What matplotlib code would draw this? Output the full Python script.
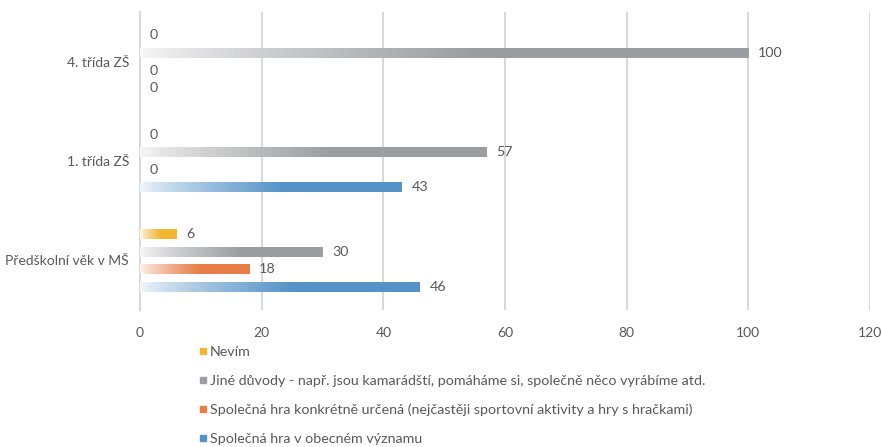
import numpy as np
import matplotlib
matplotlib.use("Agg")
import matplotlib.pyplot as plt
from matplotlib.colors import to_rgb
from matplotlib.lines import Line2D

categories = ["Předškolní věk v MŠ", "1. třída ZŠ", "4. třída ZŠ"]
series = [
    "Nevím",
    "Jiné důvody - např. jsou kamarádští, pomáháme si, společně něco vyrábíme atd.",
    "Společná hra konkrétně určená (nejčastěji sportovní aktivity a hry s hračkami)",
    "Společná hra v obecném významu",
]
colors = ["#F2B632", "#9C9DA1", "#E87D45", "#5592C8"]
# values per series, ordered like categories
nevim = [6, 0, 0]
jine = [30, 57, 100]
konkretne = [18, 0, 0]
obecne = [46, 43, 0]
values = [nevim, jine, konkretne, obecne]

text_color = "#595959"
grid_color = "#D9D9D9"
plt.rcParams["font.family"] = ["Lato", "DejaVu Sans"]

fig = plt.figure(figsize=(8.83, 4.47), dpi=100)
ax = fig.add_axes([0.1586, 0.3065, 0.8267, 0.6665])

step = 0.177
bar_h = 0.10
offsets = [1.5 * step, 0.5 * step, -0.5 * step, -1.5 * step]

# horizontal white-to-colour gradient for each bar
ramp = np.linspace(0, 1, 256)
for vals, col, off in zip(values, colors, offsets):
    rgb = np.array(to_rgb(col))
    t = 0.08 + 0.92 * np.clip(ramp / 0.55, 0, 1) ** 0.8
    img = (1 - t)[:, None] * 1.0 + t[:, None] * rgb[None, :]
    img = img[None, :, :]
    for i, v in enumerate(vals):
        y = i + off
        if v > 0:
            ax.imshow(img, extent=[0, v, y - bar_h / 2, y + bar_h / 2],
                      aspect="auto", interpolation="bilinear", zorder=3)
        ax.text(v + 1.6, y, str(v), va="center", ha="left",
                fontsize=10.3, color=text_color, zorder=4)

ax.set_xlim(0, 120)
ax.set_ylim(-0.5, 2.5)
ax.set_xticks(range(0, 121, 20))
ax.set_yticks(range(len(categories)))
ax.set_yticklabels(categories)
ax.tick_params(axis="both", length=0, labelsize=10, colors=text_color)
ax.tick_params(axis="x", pad=12)
ax.tick_params(axis="y", pad=8)
ax.grid(axis="x", color=grid_color, linewidth=1.5, zorder=0)
ax.set_axisbelow(True)
for side in ["top", "right", "bottom"]:
    ax.spines[side].set_visible(False)
ax.spines["left"].set_color(grid_color)
ax.spines["left"].set_linewidth(1.5)

handles = [Line2D([], [], marker="s", linestyle="none", markersize=5,
                  markerfacecolor=c, markeredgecolor=c) for c in colors]
fig.legend(handles, series, loc="upper left", bbox_to_anchor=(0.225, 0.225),
           frameon=False, fontsize=10.3, labelcolor=text_color,
           handlelength=0.6, handletextpad=0.2, labelspacing=1.17,
           borderaxespad=0, borderpad=0)

fig.savefig("out.png", dpi=100)
